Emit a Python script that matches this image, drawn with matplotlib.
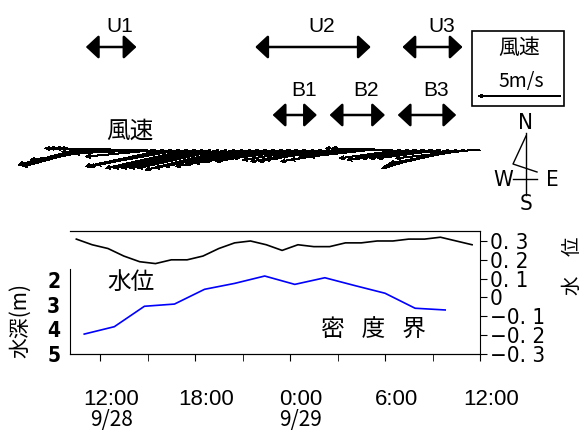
import numpy as np
import matplotlib.pyplot as plt
from matplotlib import transforms
from matplotlib.patches import Rectangle

plt.rcParams['font.family'] = ['Liberation Sans', 'Noto Sans CJK JP', 'DejaVu Sans']
JP = ['Noto Sans CJK JP', 'DejaVu Sans']
NARROW = dict(family='DejaVu Sans', stretch='condensed')

# all times in hours counted from 9/28 12:00
level_hours = [-1.5, -0.5, 0.5, 1.5, 2.5, 3.5, 4.5, 5.5, 6.5, 7.5, 8.5, 9.5, 10.5,
               11.5, 12.5, 13.5, 14.5, 15.5, 16.5, 17.5, 18.5, 19.5, 20.5, 21.5,
               22.5, 23.5]
water_level = [0.31, 0.28, 0.26, 0.22, 0.19, 0.18, 0.20, 0.20, 0.22, 0.26, 0.29,
               0.30, 0.28, 0.25, 0.28, 0.27, 0.27, 0.29, 0.29, 0.30, 0.30, 0.31,
               0.31, 0.32, 0.30, 0.28]

interface_hours = [-1.0, 0.9, 2.8, 4.7, 6.6, 8.5, 10.4, 12.3, 14.2, 16.1, 18.0,
                   19.9, 21.8]
interface_depth = [4.19, 3.89, 3.06, 2.97, 2.37, 2.13, 1.83, 2.17, 1.90, 2.22,
                   2.53, 3.14, 3.21]

wind_hours = [-1.5, -1.0, -0.5, 0.0, 0.5, 1.0, 1.5, 2.0, 2.5, 3.0, 3.5, 4.0, 4.5,
              5.0, 5.5, 6.0, 6.5, 7.0, 7.5, 8.0, 8.5, 9.0, 9.5, 10.0, 10.5, 11.0,
              11.5, 12.0, 12.5, 13.0, 13.5, 14.0, 14.5, 15.0, 15.5, 16.0, 16.5,
              17.0, 17.5, 18.0, 18.5, 19.0, 19.5, 20.0, 20.5, 21.0, 21.5, 22.0,
              22.5, 23.0, 23.5, 24.0]
# east / north components, m/s
wind_u = [-3.5, -3.7, -3.9, -4.2, -3.8, -4.0, -4.1, -4.3, -4.7, -4.4, -4.2, -4.7,
          -4.9, -5.0, -4.9, -4.9, -4.9, -4.9, -4.9, -4.9, -4.8, -4.7, -4.5, -4.4,
          -4.3, -4.2, -4.0, -3.9, -3.9, -3.8, -3.8, -3.8, -3.9, -3.9, -3.9, -3.8,
          -3.7, -3.6, -3.6, -3.6, -3.7, -3.7, -3.7, -3.7, -3.8, -3.8, -3.8, -4.0,
          -4.3, -4.5, -4.6, -4.8]
wind_v = [-0.9, -1.0, -0.8, -0.6, 0.1, 0.1, 0.1, 0.1, -0.1, -0.2, -0.4, -1.0,
          -1.0, -0.9, -1.1, -1.1, -1.1, -1.1, -1.1, -1.2, -1.1, -1.0, -1.0, -0.9,
          -0.8, -0.7, -0.7, -0.5, -0.5, -0.6, -0.7, -0.7, -0.6, -0.5, -0.7, -0.6,
          -0.4, -0.4, -0.1, 0.1, 0.1, -0.5, -0.6, -0.5, -0.5, -0.5, -0.5, -1.1,
          -1.0, -0.8, -0.5, -0.2]
legend_speed = 5

period_names = ['U1', 'U2', 'U3', 'B1', 'B2', 'B3']
period_start = [-0.9, 9.8, 19.1, 10.9, 14.5, 18.8]
period_end = [2.3, 17.1, 22.9, 13.7, 18.0, 22.5]

time_ticks = [0, 6, 12, 18, 24]
time_labels = ['12:00', '18:00', '0:00', '6:00', '12:00']
minor_ticks = [3, 9, 15, 21]
date_ticks = [0, 12]
date_labels = ['9/28', '9/29']
depth_ticks = [2, 3, 4, 5]
level_ticks = [0.3, 0.2, 0.1, 0.0, -0.1, -0.2, -0.3]

W, H = 585, 436
fig = plt.figure(figsize=(W / 100, H / 100), dpi=100)

# lower panel: interface depth on the left, water level on the right
ax = fig.add_axes([70 / W, 1 - 354 / H, 410 / W, 123 / H])
ax2 = ax.twinx()
ax.plot(interface_hours, interface_depth, color='#0000ff', lw=1.2)
ax2.plot(level_hours, water_level, color='black', lw=1.2)

ax.set_xlim(-1.9, 24)
ax.set_ylim(5, 0)
ax2.set_ylim(-0.3, 0.353)

for a in (ax, ax2):
    a.set_facecolor('none')
ax.spines['right'].set_visible(False)
ax2.spines['left'].set_visible(False)
ax.spines['left'].set_bounds(1.55, 5)

ax.set_yticks(depth_ticks)
ax.set_yticklabels([str(d) for d in depth_ticks], fontweight='bold',
                   fontsize=15, **NARROW)
ax.tick_params(axis='y', length=0, pad=7)

ax2.set_yticks(level_ticks)
ax2.set_yticklabels(['0' if v == 0 else f'{v:.1f}'.replace('.', '. ').replace('-', '\u2212')
                     for v in level_ticks], fontsize=16, **NARROW)
ax2.tick_params(axis='y', length=5, direction='out', pad=2)

ax.set_xticks(time_ticks)
ax.set_xticklabels(time_labels, fontsize=16)
ax.set_xticks(minor_ticks, minor=True)
ax.tick_params(axis='x', which='both', length=5, direction='out', pad=20)
shift = transforms.ScaledTranslation(11 / 100, 0, fig.dpi_scale_trans)
for lab in ax.get_xticklabels():
    lab.set_transform(lab.get_transform() + shift)

# wind sticks and observation periods share the time axis
aw = fig.add_axes([70 / W, 0, 410 / W, 1], sharex=ax)
aw.set_ylim(H, 0)
aw.axis('off')

stick = dict(angles='uv', scale_units='dots', scale=1 / 16.6, units='dots',
             width=1.0, headwidth=4, headlength=4.5, headaxislength=4,
             color='black', antialiased=False)
aw.quiver(wind_hours, np.full(len(wind_hours), 150.0), wind_u, wind_v,
          clip_on=False, **stick)

label_shift = transforms.offset_copy(aw.transData, fig, x=9, units='dots')
for name, s, e in zip(period_names, period_start, period_end):
    y, ty = (47, 27) if name.startswith('U') else (115, 90)
    aw.annotate('', xy=(e, y), xytext=(s, y),
                arrowprops=dict(arrowstyle='<|-|>,head_length=0.3,head_width=0.28',
                                mutation_scale=26, lw=1.8, color='black',
                                shrinkA=0, shrinkB=0))
    aw.text((s + e) / 2, ty, name, ha='center', va='center', fontsize=15,
            transform=label_shift)

date_shift = transforms.offset_copy(aw.transData, fig, x=11, units='dots')
for h, lab in zip(date_ticks, date_labels):
    aw.text(h, 420, lab, ha='center', va='center', fontsize=15, family=JP,
            transform=date_shift)

# overlay in pixel coordinates for labels, legend box and compass
ov = fig.add_axes([0, 0, 1, 1])
ov.set_xlim(0, W)
ov.set_ylim(H, 0)
ov.axis('off')

ov.text(130, 131, '風速', ha='center', va='center', fontsize=17, family=JP)
ov.text(131, 282, '水位', ha='center', va='center', fontsize=17, family=JP)
ov.text(373, 330, '密\u2002 度\u2002 界', ha='center', va='center', fontsize=17,
        family=JP)
ov.text(20, 320, '水深(m)', ha='center', va='center', fontsize=15, family=JP,
        rotation=90)
ov.text(572, 266, '水\u3000位', ha='center', va='center', fontsize=14, family=JP,
        rotation=90)

ov.add_patch(Rectangle((472, 31), 92, 75, fill=False, lw=1.2, ec='black'))
ov.text(519, 48, '風速', ha='center', va='center', fontsize=15, family=JP)
ov.text(521, 81, '5m/s', ha='center', va='center', fontsize=14, family=JP)
ov.quiver([561], [96], [-legend_speed], [0], **stick)

ov.plot([526, 526], [133, 195], color='black', lw=1)
ov.plot([513, 537], [179, 179], color='black', lw=1)
ov.plot([526, 513, 537], [136, 164, 172], color='black', lw=1)
for ch, x, y in [('N', 526, 123), ('S', 526, 204), ('W', 503, 180), ('E', 552, 180)]:
    ov.text(x, y, ch, ha='center', va='center', fontsize=16, **NARROW)

fig.savefig('out.png', dpi=100)
